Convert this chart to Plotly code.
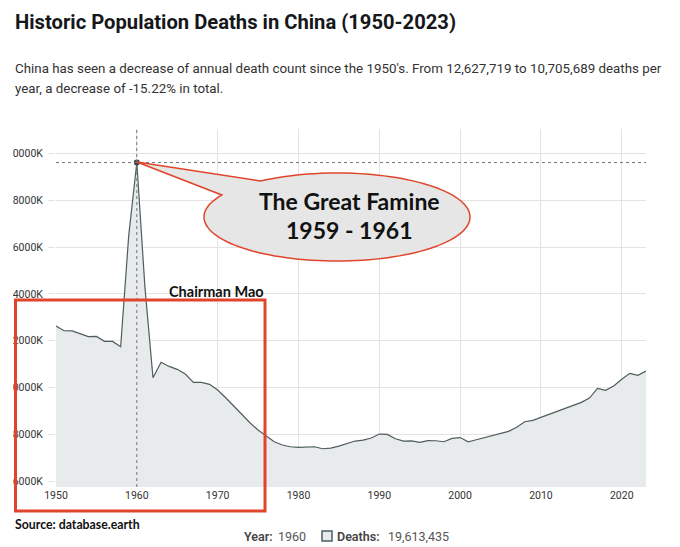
import plotly.graph_objects as go
import math

# ---------------- data ----------------
years = list(range(1950, 2024))
deaths = [
    12627719, 12426000, 12420000, 12285000, 12175000, 12185000, 11975000, 11970000, 11742000, 16500000,
    19613435, 14300000, 10418000, 11076000, 10900000, 10777000, 10576000, 10221000, 10215000, 10135000,
    9892000, 9563000, 9208000, 8836000, 8494000, 8182000, 7926000, 7682000, 7541000, 7469000,
    7443000, 7440000, 7469000, 7383000, 7413000, 7498000, 7597000, 7712000, 7755000, 7840000,
    8011000, 7998000, 7810000, 7712000, 7715000, 7657000, 7726000, 7724000, 7682000, 7828000,
    7860000, 7682000, 7768000, 7853000, 7955000, 8054000, 8127000, 8298000, 8537000, 8597000,
    8725000, 8836000, 8964000, 9093000, 9238000, 9366000, 9550000, 9964000, 9879000, 10063000,
    10349000, 10606000, 10520000, 10705689,
]
y_tick_vals = [6000000, 8000000, 10000000, 12000000, 14000000, 16000000, 18000000, 20000000]
y_tick_text = ["6000K", "8000K", "10000K", "12000K", "14000K", "16000K", "18000K", "20000K"]
x_tick_vals = [1950, 1960, 1970, 1980, 1990, 2000, 2010, 2020]
highlight_year = 1960
highlight_deaths = deaths[years.index(highlight_year)]

title_text = "Historic Population Deaths in China (1950-2023)"
subtitle_1 = "China has seen a decrease of annual death count since the 1950's. From 12,627,719 to 10,705,689 deaths per"
subtitle_2 = "year, a decrease of -15.22% in total."

# ---------------- layout geometry (pixels) ----------------
W, H = 680, 547
L, R, T, B = 56, 34, 129, 60
PW = W - L - R
PH = H - T - B


def px(x):
    return (x - L) / PW


def py(y):
    return (H - B - y) / PH


LINE = "#4e5d5d"
FILL = "#e8ebeb"
GRID = "#e3e3e3"
RED = "#e0452c"

fig = go.Figure()

fig.add_trace(go.Scatter(
    x=years, y=deaths, mode="lines", fill="tozeroy",
    line=dict(color=LINE, width=1.2), fillcolor=FILL,
    hoverinfo="skip", showlegend=False,
))
fig.add_trace(go.Scatter(
    x=[highlight_year], y=[highlight_deaths], mode="markers",
    marker=dict(color="#3d4848", size=6), hoverinfo="skip", showlegend=False,
))

shapes = []
# crosshair
shapes.append(dict(type="line", xref="x", yref="paper", x0=highlight_year, x1=highlight_year, y0=0, y1=1,
                   line=dict(color="#6a7878", width=1, dash="dot"), layer="above"))
shapes.append(dict(type="line", xref="paper", yref="y", x0=0, x1=1, y0=highlight_deaths, y1=highlight_deaths,
                   line=dict(color="#6a7878", width=1, dash="dot"), layer="above"))

# white clip on the far left (labels are cut off in the original)
shapes.append(dict(type="rect", xref="paper", yref="paper", x0=px(-5), x1=px(13), y0=py(140), y1=py(495),
                   fillcolor="white", line=dict(width=0), layer="above"))

# red rectangle
shapes.append(dict(type="rect", xref="paper", yref="paper", x0=px(15.5), x1=px(265), y0=py(511), y1=py(300),
                   line=dict(color=RED, width=3), fillcolor="rgba(0,0,0,0)", layer="above"))

# speech-bubble callout
cx, cy, rx, ry = 337.0, 217.0, 133.0, 44.0
tip_x, tip_y = 136.9, 162.0
a_start, a_end = 235.0, 570.0
pts = []
n = 120
for i in range(n + 1):
    a = math.radians(a_start + (a_end - a_start) * i / n)
    pts.append((cx + rx * math.cos(a), cy + ry * math.sin(a)))
path = "M {:.5f},{:.5f} ".format(px(tip_x), py(tip_y))
for (x, y) in pts:
    path += "L {:.5f},{:.5f} ".format(px(x), py(y))
path += "Z"
shapes.append(dict(type="path", xref="paper", yref="paper", path=path,
                   fillcolor="#e6e6e6", line=dict(color=RED, width=1.5), layer="above"))

# legend swatch at bottom
shapes.append(dict(type="rect", xref="paper", yref="paper", x0=px(322), x1=px(332), y0=py(541), y1=py(531),
                   fillcolor=FILL, line=dict(color="#4e6060", width=1.5), layer="above"))

annotations = []


def ann(text, x, y, size, color="#111", weight=400, family="Roboto", xanchor="left"):
    annotations.append(dict(text=text, xref="paper", yref="paper", x=px(x), y=py(y),
                            xanchor=xanchor, yanchor="middle", showarrow=False,
                            font=dict(size=size, color=color, family=family, weight=weight)))


ann(title_text, 13, 22, 20.2, "#15171a", 700)
ann(subtitle_1, 13, 68, 13.35, "#333333", 400)
ann(subtitle_2, 13, 89, 13.35, "#333333", 400)
ann("The Great Famine", 349, 201, 23, "#111111", 700, "Lato", "center")
ann("1959 - 1961", 349, 230, 23, "#111111", 700, "Lato", "center")
ann("Chairman Mao", 216, 291, 14.5, "#111111", 700, "Lato", "center")
ann("Source: database.earth", 13, 524, 12.3, "#111111", 700, "Lato")
ann("Year:", 242, 536, 12.5, "#444444", 600, "Roboto")
ann(str(highlight_year), 276, 536, 12.5, "#555555", 400, "Roboto")
ann("Deaths:", 335, 536, 12.5, "#444444", 600, "Roboto")
ann(f"{highlight_deaths:,}", 386, 536, 12.5, "#555555", 400, "Roboto")

fig.update_layout(
    width=W, height=H,
    margin=dict(l=L, r=R, t=T, b=B, autoexpand=False),
    paper_bgcolor="white", plot_bgcolor="white",
    shapes=shapes, annotations=annotations,
    showlegend=False,
    font=dict(family="Roboto", color="#333"),
    xaxis=dict(range=[1950, 2023], tickvals=x_tick_vals, showgrid=True, gridcolor=GRID, gridwidth=1,
               zeroline=False, showline=False, ticks="", tickfont=dict(size=10.5, color="#333"),
               automargin=False),
    yaxis=dict(range=[5748000, 21047000], tickvals=y_tick_vals, ticktext=y_tick_text, showgrid=True,
               gridcolor=GRID, gridwidth=1, zeroline=False, showline=False, ticks="outside", ticklen=7,
               tickcolor=GRID, tickfont=dict(size=10.5, color="#333"), automargin=False,
               ticklabelstandoff=3),
)

fig.write_html("out.html", config={"displayModeBar": False},
               post_script="document.body.style.margin='0';")
